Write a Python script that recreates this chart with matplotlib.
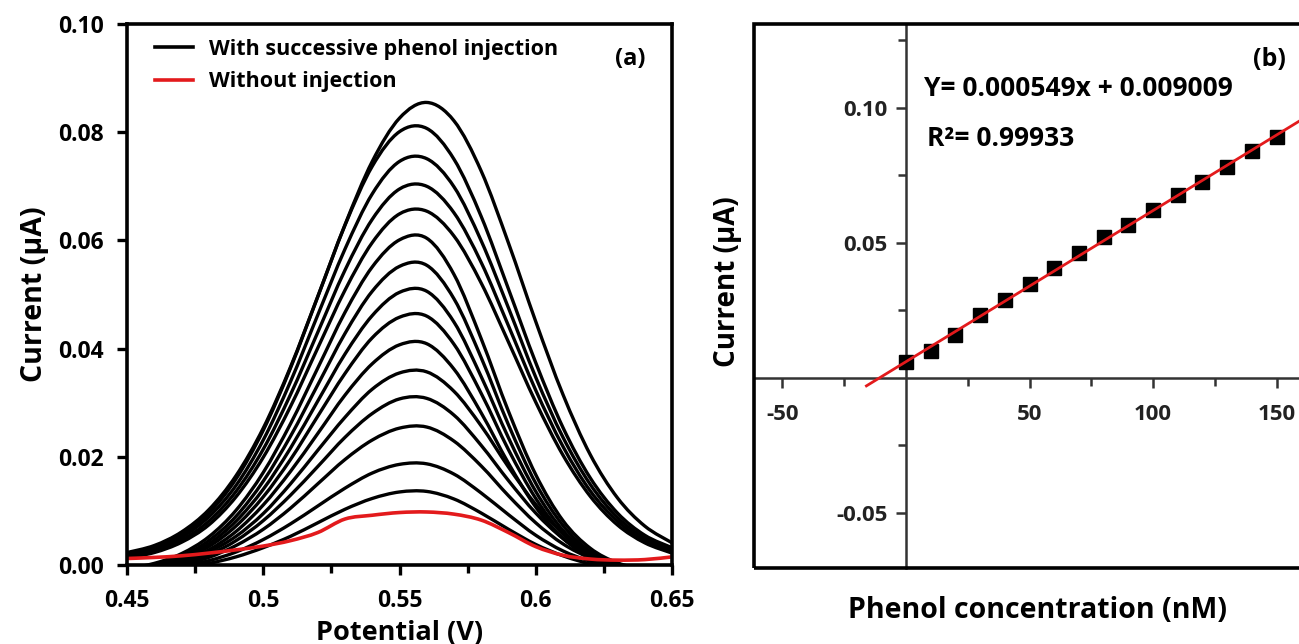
import numpy as np
import matplotlib
matplotlib.use("Agg")
import matplotlib.pyplot as plt
from matplotlib.patches import Rectangle, PathPatch
from matplotlib.path import Path
from matplotlib.lines import Line2D
from matplotlib.ticker import MultipleLocator, FixedLocator, FixedFormatter

plt.rcParams['font.family'] = ['Open Sans', 'DejaVu Sans']
plt.rcParams['font.weight'] = 'bold'
plt.rcParams['axes.labelweight'] = 'bold'

# ---------------- data: panel (a) DPV curves ----------------
potential = [0.45, 0.46, 0.47, 0.48, 0.49, 0.50, 0.51, 0.52, 0.53, 0.54, 0.55,
             0.56, 0.57, 0.58, 0.59, 0.60, 0.61, 0.62, 0.63, 0.64, 0.65]

curve_01 = [0.0023, 0.0036, 0.0061, 0.0102, 0.0165, 0.0253, 0.0366, 0.0496, 0.0629, 0.0746, 0.0826,
            0.0855, 0.0821, 0.0728, 0.0595, 0.0450, 0.0315, 0.0204, 0.0124, 0.0072, 0.0041]
curve_02 = [0.0021, 0.0033, 0.0056, 0.0096, 0.0159, 0.0249, 0.0364, 0.0496, 0.0628, 0.0737, 0.0801,
            0.0807, 0.0750, 0.0644, 0.0510, 0.0374, 0.0254, 0.0161, 0.0096, 0.0055, 0.0032]
curve_03 = [0.0018, 0.0029, 0.0051, 0.0089, 0.0147, 0.0231, 0.0339, 0.0462, 0.0584, 0.0686, 0.0746,
            0.0751, 0.0699, 0.0599, 0.0475, 0.0347, 0.0236, 0.0149, 0.0088, 0.0050, 0.0028]
curve_04 = [0.0015, 0.0026, 0.0046, 0.0081, 0.0136, 0.0214, 0.0315, 0.0430, 0.0545, 0.0639, 0.0695,
            0.0700, 0.0651, 0.0559, 0.0442, 0.0323, 0.0219, 0.0137, 0.0081, 0.0045, 0.0025]
curve_05 = [0.0013, 0.0023, 0.0042, 0.0074, 0.0126, 0.0199, 0.0293, 0.0401, 0.0508, 0.0596, 0.0649,
            0.0654, 0.0608, 0.0521, 0.0412, 0.0301, 0.0203, 0.0127, 0.0074, 0.0041, 0.0022]
curve_06 = [-0.0007, 0.0003, 0.0021, 0.0052, 0.0101, 0.0171, 0.0261, 0.0364, 0.0467, 0.0551, 0.0601,
            0.0604, 0.0537, 0.0418, 0.0284, 0.0167, 0.0082, 0.0031, 0.0004, -0.0008, -0.0013]
curve_07 = [-0.0009, -0.0001, 0.0016, 0.0045, 0.0090, 0.0155, 0.0238, 0.0333, 0.0428, 0.0506, 0.0552,
            0.0554, 0.0492, 0.0383, 0.0259, 0.0151, 0.0073, 0.0025, 0.0001, -0.0011, -0.0015]
curve_08 = [-0.0011, -0.0003, 0.0013, 0.0039, 0.0081, 0.0140, 0.0216, 0.0303, 0.0390, 0.0461, 0.0504,
            0.0506, 0.0449, 0.0348, 0.0235, 0.0136, 0.0064, 0.0021, -0.0002, -0.0012, -0.0016]
curve_09 = [-0.0012, -0.0004, 0.0010, 0.0034, 0.0072, 0.0126, 0.0195, 0.0275, 0.0354, 0.0420, 0.0458,
            0.0460, 0.0408, 0.0317, 0.0213, 0.0123, 0.0057, 0.0017, -0.0003, -0.0013, -0.0016]
curve_10 = [-0.0012, -0.0006, 0.0007, 0.0028, 0.0062, 0.0111, 0.0173, 0.0243, 0.0314, 0.0372, 0.0407,
            0.0409, 0.0362, 0.0281, 0.0188, 0.0107, 0.0049, 0.0014, -0.0005, -0.0013, -0.0016]
curve_11 = [-0.0012, -0.0006, 0.0005, 0.0024, 0.0053, 0.0095, 0.0150, 0.0212, 0.0273, 0.0325, 0.0355,
            0.0357, 0.0321, 0.0257, 0.0181, 0.0112, 0.0058, 0.0022, 0.0001, -0.0010, -0.0014]
curve_12 = [-0.0012, -0.0007, 0.0003, 0.0019, 0.0045, 0.0082, 0.0129, 0.0182, 0.0236, 0.0280, 0.0307,
            0.0308, 0.0277, 0.0221, 0.0156, 0.0096, 0.0049, 0.0018, 0.0000, -0.0010, -0.0014]
curve_13 = [-0.0011, -0.0007, 0.0001, 0.0014, 0.0036, 0.0066, 0.0105, 0.0150, 0.0195, 0.0231, 0.0253,
            0.0255, 0.0229, 0.0183, 0.0128, 0.0078, 0.0039, 0.0013, -0.0002, -0.0010, -0.0013]
curve_14 = [-0.0011, -0.0008, -0.0002, 0.0008, 0.0024, 0.0047, 0.0076, 0.0109, 0.0142, 0.0170, 0.0186,
            0.0187, 0.0168, 0.0133, 0.0093, 0.0055, 0.0026, 0.0007, -0.0004, -0.0010, -0.0013]
curve_15 = [-0.0011, -0.0009, -0.0004, 0.0003, 0.0015, 0.0032, 0.0053, 0.0078, 0.0103, 0.0123, 0.0135,
            0.0136, 0.0122, 0.0096, 0.0066, 0.0038, 0.0017, 0.0002, -0.0006, -0.0010, -0.0012]
injection_curves = [curve_01, curve_02, curve_03, curve_04, curve_05, curve_06, curve_07, curve_08,
                    curve_09, curve_10, curve_11, curve_12, curve_13, curve_14, curve_15]

blank_curve = [0.0012, 0.0014, 0.0017, 0.0022, 0.0028, 0.0035, 0.0045, 0.0060, 0.0085, 0.0092, 0.0097,
               0.0098, 0.0094, 0.0083, 0.0060, 0.0034, 0.0018, 0.0011, 0.0009, 0.0010, 0.0015]

# ---------------- data: panel (b) calibration ----------------
concentration = [0, 10, 20, 30, 40, 50, 60, 70, 80, 90, 100, 110, 120, 130, 140, 150]
peak_current = [0.0058, 0.0100, 0.0158, 0.0233, 0.0287, 0.0349, 0.0406, 0.0462,
                0.0521, 0.0567, 0.0622, 0.0676, 0.0727, 0.0783, 0.0840, 0.0891]

a_xticks = [0.45, 0.50, 0.55, 0.60, 0.65]
a_xticklabels = ['0.45', '0.5', '0.55', '0.6', '0.65']
a_yticks = [0.00, 0.02, 0.04, 0.06, 0.08, 0.10]
a_yticklabels = ['0.00', '0.02', '0.04', '0.06', '0.08', '0.10']
b_xticks = [-50, 50, 100, 150]
b_xticklabels = ['-50', '50', '100', '150']
b_yticks = [-0.05, 0.05, 0.10]
b_yticklabels = ['-0.05', '0.05', '0.10']


def smooth_path(xs, ys):
    """Smooth (Catmull-Rom style) Bezier path through the given data points."""
    p = np.column_stack([xs, ys]).astype(float)
    ext = np.vstack([p[0], p, p[-1]])
    verts = [p[0]]
    codes = [Path.MOVETO]
    for i in range(len(p) - 1):
        p0, p1, p2, p3 = ext[i], ext[i + 1], ext[i + 2], ext[i + 3]
        verts += [p1 + (p2 - p0) / 6.0, p2 - (p3 - p1) / 6.0, p2]
        codes += [Path.CURVE4] * 3
    return Path(verts, codes)


W, H = 1299, 644
fig = plt.figure(figsize=(W / 100, H / 100), dpi=100)

# ================= panel (a) =================
ax = fig.add_axes([127 / W, 1 - 565 / H, (672 - 127) / W, (565 - 24) / H])
for c in injection_curves:
    ax.add_patch(PathPatch(smooth_path(potential, c), fill=False, edgecolor='black',
                           lw=2.4, joinstyle='round', capstyle='round'))
ax.add_patch(PathPatch(smooth_path(potential, blank_curve), fill=False, edgecolor='#e31a1c',
                       lw=2.6, zorder=3))
ax.set_xlim(0.45, 0.65)
ax.set_ylim(0.0, 0.10)
for s in ax.spines.values():
    s.set_linewidth(2.6)
    s.set_zorder(4)
ax.xaxis.set_major_locator(FixedLocator(a_xticks))
ax.xaxis.set_major_formatter(FixedFormatter(a_xticklabels))
ax.xaxis.set_minor_locator(MultipleLocator(0.025))
ax.yaxis.set_major_locator(FixedLocator(a_yticks))
ax.yaxis.set_major_formatter(FixedFormatter(a_yticklabels))
ax.tick_params(axis='both', which='both', direction='out', width=2.4, labelsize=16.5)
ax.tick_params(axis='both', which='major', length=7)
ax.tick_params(axis='x', which='minor', length=6)
ax.tick_params(axis='x', which='major', pad=10)
ax.tick_params(axis='y', which='major', pad=10)
for lab in ax.get_xticklabels() + ax.get_yticklabels():
    lab.set_fontweight('bold')
ax.set_xlabel('Potential (V)', fontsize=19.5, fontweight='bold')
ax.xaxis.set_label_coords(0.5, -0.102)
ax.set_ylabel('Current (µA)', fontsize=20.5, fontweight='bold')
ax.yaxis.set_label_coords(-0.143, 0.5)

handles = [Line2D([], [], color='black', lw=2.6), Line2D([], [], color='#e31a1c', lw=2.6)]
ax.legend(handles, ['With successive phenol injection', 'Without injection'],
          loc='upper left', bbox_to_anchor=(0.02, 1.005), frameon=False,
          prop={'size': 15.5, 'weight': 'bold'}, handlelength=1.75,
          handletextpad=0.75, labelspacing=0.55, borderpad=0.3)
ax.text(0.923, 0.935, '(a)', transform=ax.transAxes, fontsize=17, fontweight='bold',
        ha='center', va='center')

# ================= panel (b) =================
bx = fig.add_axes([754 / W, 1 - 568 / H, (1305 - 754) / W, (568 - 24) / H])
bx.set_xlim(-61.5, 161.5)
bx.set_ylim(-0.0704, 0.1311)
bx.add_patch(Rectangle((0, 0), 1, 1, transform=bx.transAxes, fill=False, lw=2.6,
                       edgecolor='black', clip_on=False, zorder=5))
bx.spines['top'].set_visible(False)
bx.spines['right'].set_visible(False)
bx.spines['left'].set_position(('data', 0))
bx.spines['bottom'].set_position(('data', 0))
for side in ('left', 'bottom'):
    bx.spines[side].set_color('#333333')
    bx.spines[side].set_linewidth(1.8)
bx.xaxis.set_major_locator(FixedLocator(b_xticks))
bx.xaxis.set_major_formatter(FixedFormatter(b_xticklabels))
bx.xaxis.set_minor_locator(FixedLocator([-25, 25, 75, 125]))
bx.yaxis.set_major_locator(FixedLocator(b_yticks))
bx.yaxis.set_major_formatter(FixedFormatter(b_yticklabels))
bx.yaxis.set_minor_locator(FixedLocator([-0.025, 0.025, 0.075, 0.125]))
bx.tick_params(axis='both', which='both', direction='out', color='#333333', width=1.8,
               labelsize=16, labelcolor='#222222')
bx.tick_params(axis='both', which='major', length=7)
bx.tick_params(axis='both', which='minor', length=6)
bx.tick_params(axis='x', which='major', pad=12)
bx.tick_params(axis='y', which='major', pad=6)
for lab in bx.get_xticklabels() + bx.get_yticklabels():
    lab.set_fontweight('bold')

slope, intercept = np.polyfit(concentration, peak_current, 1)
fit_x = np.array([-16.0, 161.5])
bx.plot(fit_x, slope * fit_x + intercept, color='#e31a1c', lw=2.0, zorder=4)
bx.plot(concentration, peak_current, 's', color='black', markersize=10, zorder=3)

bx.text(0.309, 0.882, 'Y= 0.000549x + 0.009009', transform=bx.transAxes, fontsize=19,
        fontweight='bold', ha='left', va='center')
bx.text(0.314, 0.790, 'R²= 0.99933', transform=bx.transAxes, fontsize=19,
        fontweight='bold', ha='left', va='center')
bx.text(0.935, 0.934, '(b)', transform=bx.transAxes, fontsize=18, fontweight='bold',
        ha='center', va='center')

fig.text(1038 / W, 1 - 611 / H, 'Phenol concentration (nM)', fontsize=20.5, fontweight='bold',
         ha='center', va='center')
fig.text(728 / W, 1 - 282 / H, 'Current (µA)', fontsize=20, fontweight='bold',
         ha='center', va='center', rotation=90)

fig.savefig('out.png', dpi=100)
